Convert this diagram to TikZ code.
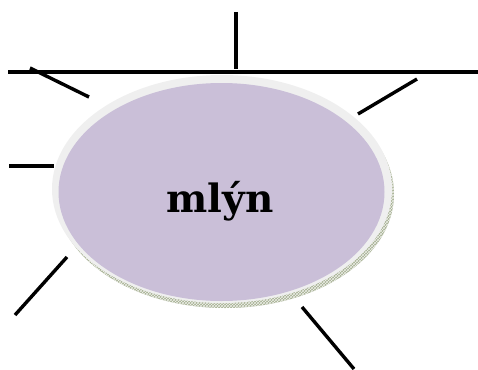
\documentclass[tikz,border=0pt]{standalone}
\usepackage{fontspec}
\newfontfamily\labelfont{DejaVu Serif}
\usetikzlibrary{patterns,shapes.geometric}
\definecolor{rim}{HTML}{EFEFEF}
\definecolor{lilac}{HTML}{CABFD8}
\definecolor{edge}{HTML}{A4AE90}
\tikzset{ray/.style={line width=3.4pt, line cap=butt}}
\begin{document}
\begin{tikzpicture}[x=1pt,y=-1pt]
\useasboundingbox (0,0) rectangle (478,369);
% shadow edge
\fill[edge] (225,194) ellipse [x radius=169, y radius=114];
\fill[pattern=crosshatch, pattern color=white!80!edge] (225,194) ellipse [x radius=169, y radius=114];
% rim
\fill[rim] (222,189) ellipse [x radius=170, y radius=114];
% face
\node[ellipse, fill=lilac, minimum width=326pt, minimum height=218pt, inner sep=0pt] (c) at (221.5,192) {};
\node[font=\labelfont\fontsize{39}{46}\selectfont\bfseries, anchor=base] (t) at (220,212) {mlýn};
% rays
\coordinate (h1) at (8,72); \coordinate (h2) at (478,72);
\coordinate (v1) at (236,12); \coordinate (v2) at (236,69);
\coordinate (a1) at (30,68); \coordinate (a2) at (89,97);
\coordinate (b1) at (358,114); \coordinate (b2) at (417,79);
\coordinate (l1) at (9,166); \coordinate (l2) at (54,166);
\coordinate (d1) at (15,315); \coordinate (d2) at (67,257);
\coordinate (e1) at (302,307); \coordinate (e2) at (354,369);
\draw[ray] (h1) -- (h2);
\draw[ray] (v1) -- (v2);
\draw[ray] (a1) -- (a2);
\draw[ray] (b1) -- (b2);
\draw[ray] (l1) -- (l2);
\draw[ray] (d1) -- (d2);
\draw[ray] (e1) -- (e2);
\end{tikzpicture}
\end{document}
